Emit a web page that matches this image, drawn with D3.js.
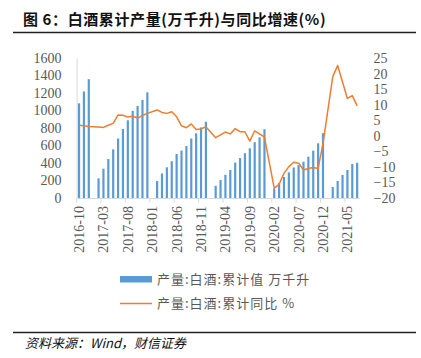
<!DOCTYPE html>
<html><head><meta charset="utf-8">
<script src="https://cdn.jsdelivr.net/npm/d3@7"></script>
<style>
html,body{margin:0;padding:0;background:#fff;}
svg{display:block;}
</style></head>
<body>
<svg id="c" width="421" height="358"></svg>
<script>
const months = ["2016-10","2016-11","2016-12","2017-01","2017-02","2017-03","2017-04","2017-05","2017-06","2017-07","2017-08","2017-09","2017-10","2017-11","2017-12",
"2018-01","2018-02","2018-03","2018-04","2018-05","2018-06","2018-07","2018-08","2018-09","2018-10","2018-11","2018-12",
"2019-01","2019-02","2019-03","2019-04","2019-05","2019-06","2019-07","2019-08","2019-09","2019-10","2019-11","2019-12",
"2020-01","2020-02","2020-03","2020-04","2020-05","2020-06","2020-07","2020-08","2020-09","2020-10","2020-11","2020-12",
"2021-01","2021-02","2021-03","2021-04","2021-05","2021-06","2021-07"];
const output = [1082,1218,1358,null,225,335,446,556,680,789,888,996,1051,1120,1208,
null,194,280,351,421,503,543,594,680,740,806,872,
null,139,206,265,320,404,457,512,568,638,693,786,
null,108,170,240,293,349,377,415,472,541,625,741,
null,126,194,263,320,389,403];
const yoy = [3.4,3.2,3.0,null,2.8,2.7,3.4,4.0,6.7,6.6,6.0,6.3,5.7,6.5,7.2,
null,8.3,7.5,7.2,7.7,6.1,3.2,2.6,3.8,2.0,2.2,2.9,
null,-0.6,0.3,1.2,0.6,2.3,1.3,1.3,-1.7,1.6,0.6,-0.4,
null,-16.8,-15.6,-12.1,-9.9,-8.5,-8.8,-11.0,-10.5,-10.2,-10.5,-2.5,
null,19.0,22.6,17.3,12.0,12.9,9.6];
const leftTicks = [0,200,400,600,800,1000,1200,1400,1600];
const rightTicks = [-20,-15,-10,-5,0,5,10,15,20,25];
const xLabels = ["2016-10","2017-03","2017-08","2018-01","2018-06","2018-11","2019-04","2019-09","2020-02","2020-07","2020-12","2021-05"];
const title = "图 6：白酒累计产量(万千升)与同比增速(%)";
const legend1 = "产量:白酒:累计值 万千升";
const legend2 = "产量:白酒:累计同比 %";
const source = "资料来源：Wind，财信证券";

const svg = d3.select("#c");
const BLUE = "#5B9BD5", ORANGE = "#ED7D31", GREY = "#595959";
const serif = "'Liberation Serif','DejaVu Serif',serif";
const cjk = "'Noto Sans CJK SC','Noto Sans',sans-serif";

const x = d3.scaleBand().domain(months).range([76.6, 359.6]).paddingInner(0.55).paddingOuter(0.275);
const yL = d3.scaleLinear().domain([0,1600]).range([198,58]);
const yR = d3.scaleLinear().domain([-20,25]).range([198,58]);

// title
svg.append("text").attr("x",23).attr("y",25).attr("font-family",cjk).attr("font-weight","bold")
  .attr("font-size",15).attr("fill","#111").attr("letter-spacing",0.6).text(title);
svg.append("line").attr("x1",13).attr("x2",416).attr("y1",32.5).attr("y2",32.5).attr("stroke","#222").attr("stroke-width",1.5);

// left axis
const gL = svg.append("g").attr("transform","translate(76.6,0)")
  .call(d3.axisLeft(yL).tickValues(leftTicks).tickSize(0).tickPadding(15).tickFormat(d3.format("d")));
gL.select(".domain").attr("stroke","#D9D9D9");
gL.selectAll("text").attr("font-family",serif).attr("font-size",14).attr("fill",GREY);

// right axis
const gR = svg.append("g").attr("transform","translate(359.6,0)")
  .call(d3.axisRight(yR).tickValues(rightTicks).tickSize(0).tickPadding(14).tickFormat(d3.format("d")));
gR.select(".domain").remove();
gR.selectAll("text").attr("font-family",serif).attr("font-size",14).attr("fill",GREY);

// bars
const data = months.map((m,i)=>({m, v:output[i], r:yoy[i]}));
svg.append("g").selectAll("rect").data(data.filter(d=>d.v!=null)).join("rect")
  .attr("x",d=>x(d.m)).attr("width",x.bandwidth())
  .attr("y",d=>yL(d.v)).attr("height",d=>yL(0)-yL(d.v)).attr("fill",BLUE);

// bottom axis
const step = x.step();
const x0 = x.range()[0];
svg.append("line").attr("x1",x0).attr("x2",x.range()[1]).attr("y1",198.5).attr("y2",198.5).attr("stroke","#D9D9D9");
const tickIdx = d3.range(0, months.length+1, 5);
svg.append("g").selectAll("line").data(tickIdx).join("line")
  .attr("x1",i=>x0+i*step).attr("x2",i=>x0+i*step).attr("y1",198.5).attr("y2",202.5).attr("stroke","#D9D9D9");
svg.append("g").selectAll("text").data(xLabels).join("text")
  .attr("transform",d=>`translate(${x(d)+x.bandwidth()/2},206) rotate(-90)`)
  .attr("text-anchor","end").attr("dy","0.35em")
  .attr("font-family",serif).attr("font-size",14).attr("fill",GREY).text(d=>d);

// line
const line = d3.line().x(d=>x(d.m)+x.bandwidth()/2).y(d=>yR(d.r));
svg.append("path").datum(data.filter(d=>d.r!=null)).attr("d",line)
  .attr("fill","none").attr("stroke",ORANGE).attr("stroke-width",1.5).attr("stroke-linejoin","round");

// legend
svg.append("rect").attr("x",120).attr("y",276).attr("width",32).attr("height",6.5).attr("fill",BLUE);
svg.append("text").attr("x",157).attr("y",279).attr("dy","0.35em").attr("font-family",cjk).attr("font-size",13)
  .attr("fill",GREY).attr("letter-spacing",1).text(legend1);
svg.append("line").attr("x1",120).attr("x2",152).attr("y1",303.5).attr("y2",303.5).attr("stroke",ORANGE).attr("stroke-width",1.5);
svg.append("text").attr("x",157).attr("y",303.5).attr("dy","0.35em").attr("font-family",cjk).attr("font-size",13)
  .attr("fill",GREY).attr("letter-spacing",1).text(legend2);

// footer
svg.append("line").attr("x1",13).attr("x2",416).attr("y1",332.5).attr("y2",332.5).attr("stroke","#222").attr("stroke-width",1.5);
svg.append("text").attr("x",25).attr("y",343).attr("dy","0.35em").attr("font-family",cjk).attr("font-style","italic")
  .attr("font-size",13).attr("fill","#111").text(source);
</script>
</body></html>
